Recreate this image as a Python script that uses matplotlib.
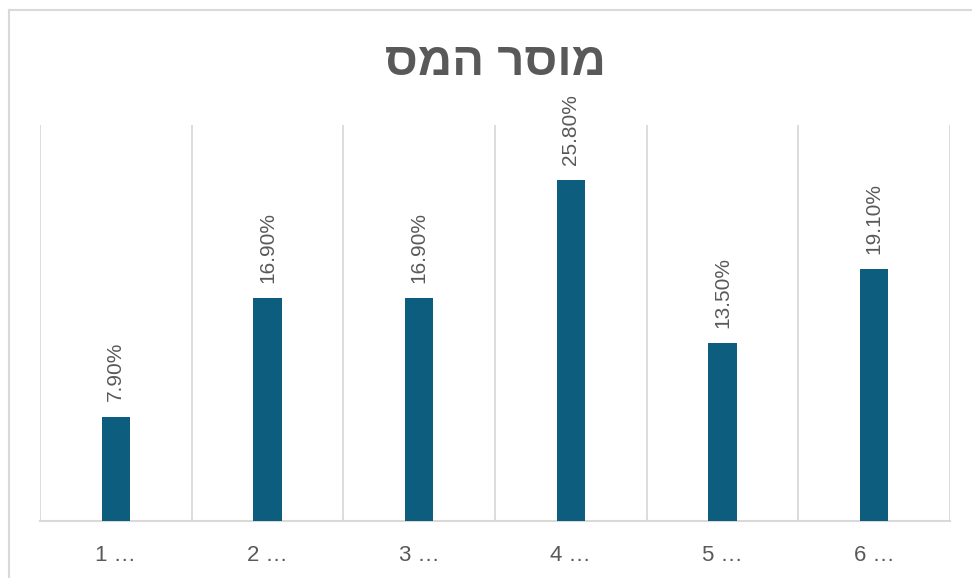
import matplotlib
matplotlib.use("Agg")
import matplotlib.pyplot as plt
from matplotlib.lines import Line2D

categories = ["1 …", "2 …", "3 …", "4 …", "5 …", "6 …"]
values = [7.9, 16.9, 16.9, 25.8, 13.5, 19.1]
title = "מוסר המס"

BAR = "#0d5d7e"
GRID = "#d9d9d9"
TEXT = "#595959"

plt.rcParams["font.family"] = ["Liberation Sans", "DejaVu Sans"]

fig = plt.figure(figsize=(9.72, 5.78), dpi=100)
ax = fig.add_axes([40 / 972, 1 - 521 / 578, 910 / 972, (521 - 125) / 578])

x = list(range(len(categories)))
bars = ax.bar(x, values, width=0.185, color=BAR, zorder=3)

ax.set_xlim(-0.5, len(categories) - 0.5)
ax.set_ylim(0, 30)

for xi, v in zip(x, values):
    ax.annotate(f"{v:.2f}%", (xi, v), xytext=(0, 11), textcoords="offset points",
                rotation=90, ha="center", va="bottom", fontsize=15, color=TEXT)

# category separators
for b in [i - 0.5 for i in range(len(categories) + 1)]:
    ax.axvline(b, color=GRID, lw=1.3, zorder=1)

for s in ["top", "left", "right"]:
    ax.spines[s].set_visible(False)
ax.spines["bottom"].set_color(GRID)
ax.spines["bottom"].set_linewidth(1.5)
ax.set_yticks([])
ax.set_xticks(x)
ax.set_xticklabels(categories, fontsize=16, color=TEXT)
ax.tick_params(axis="x", length=0, pad=17)

# reverse for right-to-left display
fig.text(495 / 972, 1 - 63 / 578, title[::-1], ha="center", va="center",
         fontsize=34, fontweight="bold", color=TEXT)

# outer frame (left and top edges)
fig.add_artist(Line2D([9 / 972, 9 / 972], [0, 1 - 10 / 578], color=GRID, lw=1.5,
                      transform=fig.transFigure))
fig.add_artist(Line2D([9 / 972, 1], [1 - 10 / 578, 1 - 10 / 578], color=GRID, lw=1.5,
                      transform=fig.transFigure))

fig.savefig("out.png", dpi=100, facecolor="white")
